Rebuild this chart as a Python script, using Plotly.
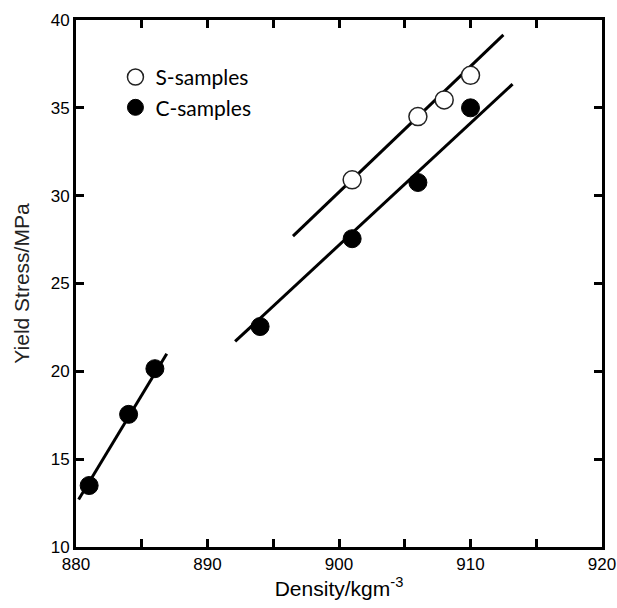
import plotly.graph_objects as go

# data
s_density = [901, 906, 908, 910]
s_stress = [30.9, 34.5, 35.45, 36.85]
c_density = [881, 884, 886, 894, 901, 906, 910]
c_stress = [13.5, 17.55, 20.15, 22.55, 27.55, 30.75, 35.0]

# fitted lines (end points)
s_fit_x = [896.5, 912.5]
s_fit_y = [27.7, 39.15]
c1_fit_x = [880.2, 886.9]
c1_fit_y = [12.7, 21.0]
c2_fit_x = [892.1, 913.2]
c2_fit_y = [21.7, 36.35]

x_tickvals = [880, 890, 900, 910, 920]
x_ticktext = ["880", "890", "900", "910", "920"]
y_tickvals = [10, 15, 20, 25, 30, 35, 40]
y_ticktext = ["10", "15", "20", "25", "30", "35", "40"]

fig = go.Figure()
line_style = dict(color="black", width=3)
for fx, fy in [(s_fit_x, s_fit_y), (c1_fit_x, c1_fit_y), (c2_fit_x, c2_fit_y)]:
    fig.add_trace(go.Scatter(x=fx, y=fy, mode="lines", line=line_style,
                             showlegend=False, hoverinfo="skip"))

fig.add_trace(go.Scatter(x=s_density, y=s_stress, mode="markers", name="S-samples",
                         marker=dict(symbol="circle", size=18, color="white",
                                     line=dict(color="#222", width=1.5))))
fig.add_trace(go.Scatter(x=c_density, y=c_stress, mode="markers", name="C-samples",
                         marker=dict(symbol="circle", size=18, color="black",
                                     line=dict(color="black", width=1))))

axis_common = dict(showline=True, linecolor="black", linewidth=3, mirror="ticks",
                   ticks="inside", ticklen=8, tickwidth=3, tickcolor="black",
                   showgrid=False, zeroline=False, automargin=False,
                   tickfont=dict(family="Liberation Sans, Arial", size=17, color="black"))

fig.update_xaxes(range=[880, 920], tickmode="array", tickvals=x_tickvals, ticktext=x_ticktext,
                 minor=dict(dtick=5, tick0=880, ticks="inside", ticklen=8, tickwidth=3,
                            tickcolor="black", showgrid=False),
                 title=dict(text="Density/kgm<sup>-3</sup>", standoff=4,
                            font=dict(family="Liberation Sans, Arial", size=21, color="black")),
                 **axis_common)
fig.update_yaxes(range=[10, 40], tickmode="array", tickvals=y_tickvals, ticktext=y_ticktext,
                 title=dict(text="Yield Stress/MPa", standoff=16,
                            font=dict(family="Liberation Sans, Arial", size=21, color="#222")),
                 **axis_common)

fig.update_layout(
    width=617, height=608,
    margin=dict(l=76, r=15, t=20, b=61),
    plot_bgcolor="white", paper_bgcolor="white",
    legend=dict(x=0.075, y=0.93, xanchor="left", yanchor="top",
                bgcolor="rgba(0,0,0,0)", borderwidth=0, itemsizing="trace",
                font=dict(family="Lato, Carlito, sans-serif", size=21, color="black"),
                tracegroupgap=4),
)

fig.write_html("out.html")
